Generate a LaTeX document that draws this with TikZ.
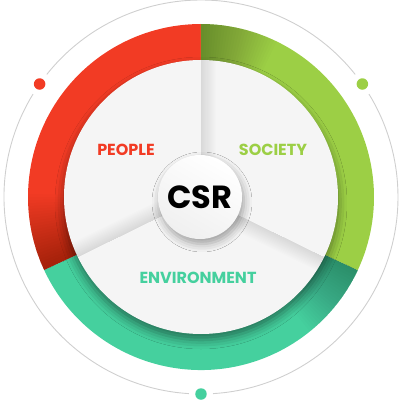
\documentclass[tikz,border=0pt]{standalone}
\usepackage{fontspec}
\setmainfont{Poppins}
\usetikzlibrary{shadows.blur}
\definecolor{cred}{HTML}{F23B24}
\definecolor{cgreen}{HTML}{9CCF45}
\definecolor{cteal}{HTML}{45D09E}
\definecolor{cdisc}{HTML}{F5F5F5}
\definecolor{cline}{HTML}{CFCFCF}
\tikzset{
  dotnode/.style={circle, inner sep=0pt, minimum size=11.5pt, draw=none},
  label/.style={font=\bfseries\fontsize{16}{16}\selectfont, inner sep=0pt},
}
\newcommand\wedgeshade[4]{% end angle, radius, steps, opacity
  \foreach \k [evaluate=\k as \a using #1-\k] in {1,...,#3}{
    \fill[black, opacity=#4] (0,0) -- (\a:#2) arc[start angle=\a, end angle=#1, radius=#2] -- cycle;
  }}
\newcommand\bandshade[1]{% divider angle
  \begin{scope}[rotate=#1]
    \clip (0,0) circle (137pt);
    \foreach \k in {1,...,14}{
      \fill[black, opacity=0.008] (0,0) rectangle (140,-1.1*\k);
    }
  \end{scope}}
\begin{document}
\begin{tikzpicture}[x=1pt,y=1pt]
\useasboundingbox (-201,-210) rectangle (199,197);
% outer thin circle with gaps at the dots
\draw[cline, line width=0.9pt] (38.5:197) arc[start angle=38.5, end angle=141.5, radius=197pt];
\draw[cline, line width=0.9pt] (148.5:197) arc[start angle=148.5, end angle=266.5, radius=197pt];
\draw[cline, line width=0.9pt] (273.5:197) arc[start angle=273.5, end angle=391.5, radius=197pt];
% dots
\node[dotnode, fill=cred] (dred) at (145:197) {};
\node[dotnode, fill=cgreen] (dgreen) at (35:197) {};
\node[dotnode, fill=cteal] (dteal) at (270:197) {};
% coloured ring
\fill[cred] (0,0) -- (90:173) arc[start angle=90, end angle=205, radius=173pt] -- cycle;
\fill[cteal] (0,0) -- (205:173) arc[start angle=205, end angle=335, radius=173pt] -- cycle;
\fill[cgreen] (0,0) -- (335:173) arc[start angle=335, end angle=450, radius=173pt] -- cycle;
% ring shading at the segment ends
\wedgeshade{205}{173}{26}{0.011}
\wedgeshade{90}{173}{26}{0.011}
\wedgeshade{335}{173}{26}{0.011}
% white disc
\fill[cdisc, blur shadow={shadow xshift=0pt, shadow yshift=-6pt, shadow blur radius=9pt, shadow opacity=45}] (0,0) circle (137pt);
\bandshade{206}
\bandshade{90}
\bandshade{334}
% labels
\node[label, text=cred] (people) at (-75,47) {PEOPLE};
\node[label, text=cgreen] (society) at (72,47) {SOCIETY};
\node[label, text=cteal] (env) at (-3,-81) {ENVIRONMENT};
% centre
\node[circle, minimum size=84pt, inner sep=0pt, top color=white, bottom color=gray!12, shading angle=-30,
  blur shadow={shadow xshift=2pt, shadow yshift=-5pt, shadow blur radius=8pt, shadow opacity=35},
  font=\bfseries\fontsize{32}{32}\selectfont, text=black] (csr) at (-1,0) {CSR};
\end{tikzpicture}
\end{document}
